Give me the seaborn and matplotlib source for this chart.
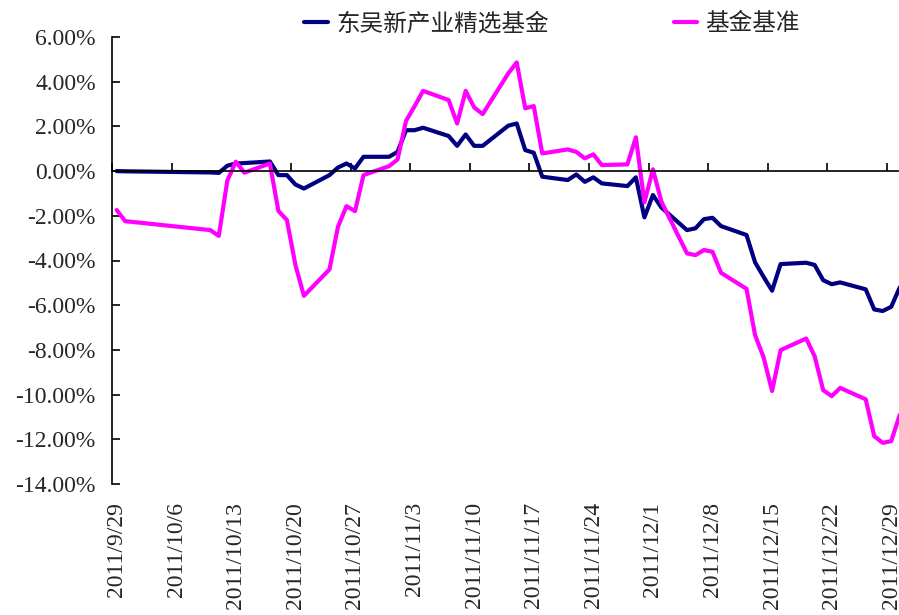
import pandas as pd
import matplotlib.pyplot as plt
import matplotlib.dates as mdates
from matplotlib.ticker import FixedLocator, FuncFormatter
import seaborn as sns

# 交易日
dates = ['2011-09-29', '2011-09-30', '2011-10-10', '2011-10-11', '2011-10-12',
         '2011-10-13', '2011-10-14', '2011-10-17', '2011-10-18', '2011-10-19',
         '2011-10-20', '2011-10-21', '2011-10-24', '2011-10-25', '2011-10-26',
         '2011-10-27', '2011-10-28', '2011-10-31', '2011-11-01', '2011-11-02',
         '2011-11-03', '2011-11-04', '2011-11-07', '2011-11-08', '2011-11-09',
         '2011-11-10', '2011-11-11', '2011-11-14', '2011-11-15', '2011-11-16',
         '2011-11-17', '2011-11-18', '2011-11-21', '2011-11-22', '2011-11-23',
         '2011-11-24', '2011-11-25', '2011-11-28', '2011-11-29', '2011-11-30',
         '2011-12-01', '2011-12-02', '2011-12-05', '2011-12-06', '2011-12-07',
         '2011-12-08', '2011-12-09', '2011-12-12', '2011-12-13', '2011-12-14',
         '2011-12-15', '2011-12-16', '2011-12-19', '2011-12-20', '2011-12-21',
         '2011-12-22', '2011-12-23', '2011-12-26', '2011-12-27', '2011-12-28',
         '2011-12-29', '2011-12-30']

# 累计收益率 (%)
fund = [0.00, -0.01, -0.06, -0.08, 0.24, 0.34, 0.36, 0.43, -0.18, -0.18,
        -0.60, -0.78, -0.18, 0.16, 0.34, 0.12, 0.64, 0.64, 0.86, 1.83,
        1.83, 1.94, 1.57, 1.13, 1.64, 1.13, 1.13, 2.03, 2.13, 0.94,
        0.82, -0.25, -0.40, -0.15, -0.48, -0.28, -0.55, -0.67, -0.28, -2.07,
        -1.07, -1.63, -2.64, -2.56, -2.15, -2.09, -2.46, -2.86, -4.08, -4.73,
        -5.35, -4.16, -4.10, -4.20, -4.88, -5.06, -4.98, -5.29, -6.19, -6.26,
        -6.07, -5.20]
bench = [-1.74, -2.24, -2.64, -2.90, -0.43, 0.42, -0.07, 0.34, -1.78, -2.19,
         -4.20, -5.58, -4.40, -2.49, -1.57, -1.79, -0.18, 0.22, 0.52, 2.25,
         2.90, 3.59, 3.18, 2.13, 3.59, 2.85, 2.55, 4.37, 4.86, 2.81,
         2.91, 0.79, 0.97, 0.86, 0.57, 0.75, 0.27, 0.30, 1.51, -1.40,
         0.08, -1.37, -3.68, -3.76, -3.53, -3.61, -4.55, -5.27, -7.34, -8.33,
         -9.84, -8.01, -7.49, -8.28, -9.80, -10.07, -9.70, -10.21, -11.86, -12.16,
         -12.08, -10.90]

fund_name = '东吴新产业精选基金'
bench_name = '基金基准'

tick_dates = ['2011-09-29', '2011-10-06', '2011-10-13', '2011-10-20', '2011-10-27',
              '2011-11-03', '2011-11-10', '2011-11-17', '2011-11-24', '2011-12-01',
              '2011-12-08', '2011-12-15', '2011-12-22', '2011-12-29']
y_ticks = [6, 4, 2, 0, -2, -4, -6, -8, -10, -12, -14]

sns.set_style('white')
plt.rcParams['font.family'] = ['Liberation Serif', 'Noto Sans CJK SC']
plt.rcParams['axes.unicode_minus'] = False

n = len(dates)
df = pd.DataFrame({
    'date': pd.to_datetime(dates * 2),
    'value': fund + bench,
    'series': [fund_name] * n + [bench_name] * n,
})

fig = plt.figure(figsize=(8.99, 6.15), dpi=100)
ax = fig.add_axes([112.4 / 899, (615 - 484) / 615, (899 - 112.4) / 899, (484 - 37) / 615])

sns.lineplot(data=df, x='date', y='value', hue='series',
             palette=['#000080', '#FF00FF'], linewidth=3, ax=ax)

handles, labels = ax.get_legend_handles_labels()
ax.get_legend().remove()
fig.legend(handles, labels, loc='center', bbox_to_anchor=(0.614, 0.961), ncol=2,
           frameon=False, prop={'family': ['Noto Sans CJK SC'], 'size': 17},
           handlelength=1.0, handletextpad=0.35, columnspacing=5.3)

# x 轴：日期轴，刻度在格子边界，标签在中间
start = mdates.date2num(pd.Timestamp('2011-09-29')) - 0.5
ax.set_xlim(start, start + (899 - 112.4) / 8.512)
tick_nums = [mdates.date2num(pd.Timestamp(d)) for d in tick_dates]
ax.xaxis.set_major_locator(FixedLocator(tick_nums))
ax.xaxis.set_minor_locator(FixedLocator([t - 0.5 for t in tick_nums]))
ax.xaxis.set_major_formatter(FuncFormatter(
    lambda v, p: '{0.year}/{0.month}/{0.day}'.format(mdates.num2date(v))))

ax.set_ylim(-14, 6)
ax.set_yticks(y_ticks)
ax.yaxis.set_major_formatter(FuncFormatter(lambda v, p: f'{v:.2f}%'))

ax.set_xlabel('')
ax.set_ylabel('')

for s in ['right', 'bottom']:
    ax.spines[s].set_visible(False)
ax.spines['top'].set_position(('data', 0))
for s in ['top', 'left']:
    ax.spines[s].set_color('black')
    ax.spines[s].set_linewidth(1.2)

ax.tick_params(axis='x', which='major', bottom=False, top=False,
               labelbottom=True, labeltop=False, length=0, pad=13,
               labelrotation=90, labelsize=17)
ax.tick_params(axis='x', which='minor', bottom=False, top=True,
               direction='out', length=6, width=1.2, color='black')
ax.tick_params(axis='y', direction='in', length=6, width=1.2, pad=12,
               labelsize=17, left=True, color='black')

fig.savefig('out.png', dpi=100)
